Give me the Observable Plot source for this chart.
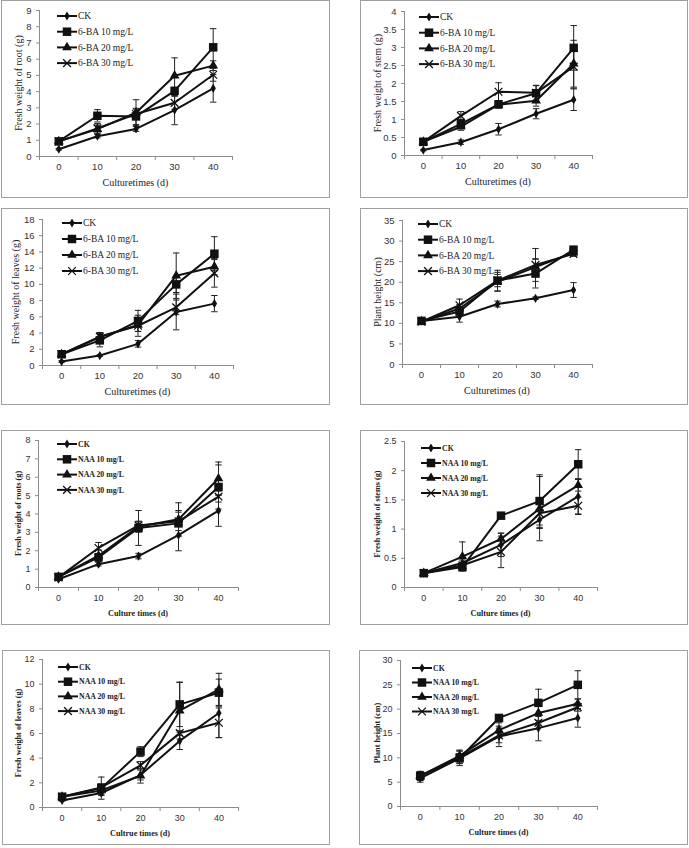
<!DOCTYPE html>
<html><head><meta charset="utf-8">
<script src="https://cdn.jsdelivr.net/npm/d3@7"></script>
<script src="https://cdn.jsdelivr.net/npm/@observablehq/plot@0.6"></script>
<style>
html,body{margin:0;padding:0;background:#fff;}
#root{position:relative;width:689px;height:848px;overflow:hidden;background:#fff;}
.frame{position:absolute;border:1px solid #a0a0a0;box-sizing:border-box;pointer-events:none;}
.holder{position:absolute;}
.holder svg{display:block;max-width:none !important;}
</style></head><body><div id="root"></div>
<script>
// ---------- data ----------
const days = [0, 10, 20, 30, 40];
const seriesBA = ["CK", "6-BA 10 mg/L", "6-BA 20 mg/L", "6-BA 30 mg/L"];
const seriesNAA = ["CK", "NAA 10 mg/L", "NAA 20 mg/L", "NAA 30 mg/L"];

const rootBA = [
  [0.45, 1.25, 1.70, 2.86, 4.20],
  [0.93, 2.51, 2.47, 4.05, 6.73],
  [0.93, 1.69, 2.70, 4.98, 5.60],
  [0.93, 1.73, 2.62, 3.31, 5.04]];
const rootBAErr = [
  [0.05, 0.10, 0.15, 0.90, 0.85],
  [0.05, 0.38, 0.50, 0.15, 1.15],
  [0.05, 0.25, 0.80, 1.10, 0.30],
  [0.05, 0.30, 0.30, 0.40, 0.40]];

const stemBA = [
  [0.15, 0.37, 0.73, 1.16, 1.55],
  [0.38, 0.88, 1.42, 1.73, 2.99],
  [0.38, 0.80, 1.41, 1.52, 2.55],
  [0.38, 1.10, 1.77, 1.74, 2.47]];
const stemBAErr = [
  [0.02, 0.06, 0.16, 0.14, 0.30],
  [0.03, 0.12, 0.10, 0.22, 0.62],
  [0.03, 0.10, 0.08, 0.15, 0.65],
  [0.03, 0.12, 0.25, 0.20, 0.60]];

const leafBA = [
  [0.49, 1.23, 2.67, 6.60, 7.63],
  [1.39, 3.10, 5.50, 10.00, 13.78],
  [1.39, 3.50, 5.00, 11.07, 12.18],
  [1.39, 3.57, 4.90, 7.17, 11.36]];
const leafBAErr = [
  [0.10, 0.10, 0.40, 2.20, 1.00],
  [0.10, 0.80, 1.30, 1.00, 2.10],
  [0.10, 0.50, 0.80, 2.80, 1.00],
  [0.10, 0.50, 1.30, 0.90, 1.70]];

const heightBA = [
  [10.6, 11.6, 14.7, 16.1, 18.1],
  [10.6, 12.9, 20.4, 22.1, 27.9],
  [10.4, 13.6, 20.1, 23.7, 27.2],
  [10.4, 14.4, 20.4, 24.2, 26.9]];
const heightBAErr = [
  [0.8, 1.3, 0.7, 0.3, 1.8],
  [0.5, 1.0, 1.5, 3.5, 0.8],
  [0.5, 1.0, 2.3, 2.0, 0.8],
  [0.5, 1.5, 2.5, 4.0, 0.6]];

const rootNAA = [
  [0.45, 1.27, 1.71, 2.85, 4.18],
  [0.58, 1.64, 3.24, 3.49, 5.47],
  [0.58, 1.73, 3.31, 3.71, 5.93],
  [0.55, 2.15, 3.38, 3.60, 4.95]];
const rootNAAErr = [
  [0.05, 0.10, 0.15, 0.85, 0.85],
  [0.05, 0.20, 0.95, 0.70, 1.20],
  [0.05, 0.30, 0.30, 0.90, 0.90],
  [0.05, 0.30, 0.20, 0.50, 0.30]];

const stemNAA = [
  [0.245, 0.42, 0.73, 1.16, 1.56],
  [0.245, 0.35, 1.23, 1.48, 2.11],
  [0.245, 0.53, 0.83, 1.35, 1.75],
  [0.245, 0.38, 0.61, 1.27, 1.40]];
const stemNAAErr = [
  [0.02, 0.05, 0.20, 0.15, 0.30],
  [0.02, 0.04, 0.03, 0.45, 0.25],
  [0.02, 0.25, 0.10, 0.55, 0.10],
  [0.02, 0.05, 0.27, 0.20, 0.15]];

const leafNAA = [
  [0.57, 1.17, 2.63, 5.40, 7.66],
  [0.87, 1.57, 4.53, 8.36, 9.31],
  [0.87, 1.38, 2.58, 7.85, 9.58],
  [0.87, 1.63, 3.42, 6.03, 6.87]];
const leafNAAErr = [
  [0.05, 0.20, 0.40, 0.70, 2.00],
  [0.05, 0.90, 0.40, 1.80, 1.10],
  [0.05, 0.30, 0.60, 2.30, 1.30],
  [0.05, 0.30, 0.30, 0.20, 1.20]];

const heightNAA = [
  [5.8, 9.9, 14.4, 16.1, 18.2],
  [6.3, 9.9, 18.2, 21.3, 25.0],
  [6.3, 10.4, 15.7, 19.2, 21.1],
  [6.3, 10.1, 14.6, 17.2, 20.4]];
const heightNAAErr = [
  [0.8, 1.0, 2.1, 2.6, 1.9],
  [0.9, 1.5, 0.5, 2.8, 2.9],
  [0.9, 1.2, 1.5, 2.0, 1.0],
  [0.9, 1.3, 1.5, 0.5, 0.8]];

const yTitles = ["Fresh weight of root (g)", "Fresh weight of stem (g)", "Fresh weight of leaves (g)", "Plant height (cm)",
  "Fresh weight of roots (g)", "Fresh weight of stems (g)", "Fresh weight of leaves (g)", "Plant height (cm)"];
const xTitles = ["Culturetimes (d)", "Culturetimes (d)", "Culturetimes (d)", "Culturetimes (d)",
  "Culture times (d)", "Culture times (d)", "Cultrue times (d)", "Culture times (d)"];

// ---------- layout ----------
const panels = [
  {box:[1,0,329,198],   px:[39,232],  py:[10,156],  ymax:9,   step:1,   m:rootBA,    e:rootBAErr,    names:seriesBA,  yt:21, leg:[57,16,15.7],  small:false},
  {box:[360,0,328,198], px:[404,592], py:[11,155],  ymax:4,   step:0.5, m:stemBA,    e:stemBAErr,    names:seriesBA,  yt:27, leg:[419,17,15.7], small:false},
  {box:[1,208,329,197], px:[42,233],  py:[219,365], ymax:18,  step:2,   m:leafBA,    e:leafBAErr,    names:seriesBA,  yt:27, leg:[62,223,16],   small:false},
  {box:[360,208,328,197],px:[402,592],py:[220,364], ymax:35,  step:5,   m:heightBA,  e:heightBAErr,  names:seriesBA,  yt:25, leg:[418,224,15.7],small:false},
  {box:[1,430,329,195], px:[38,238],  py:[440,587], ymax:8,   step:1,   m:rootNAA,   e:rootNAAErr,   names:seriesNAA, yt:20, leg:[57,444,15.3], small:true},
  {box:[360,430,328,195],px:[404,597],py:[441,587], ymax:2.5, step:0.5, m:stemNAA,   e:stemNAAErr,   names:seriesNAA, yt:27, leg:[421,448,15],  small:true},
  {box:[2,650,328,195], px:[42,238],  py:[659,807], ymax:12,  step:2,   m:leafNAA,   e:leafNAAErr,   names:seriesNAA, yt:24, leg:[58,667,14.7], small:true},
  {box:[359,650,329,195],px:[400,597],py:[660,806], ymax:30,  step:5,   m:heightNAA, e:heightNAAErr, names:seriesNAA, yt:23, leg:[412,668,14.5],small:true}
];

const INK = "#111";
const AXIS = "#8c8c8c";
const markerDefs = [
  {plot:"diamond",  d3s:d3.symbolDiamond,  r:2.8, filled:true},
  {plot:"square",   d3s:d3.symbolSquare,   r:4.8, filled:true},
  {plot:"triangle", d3s:d3.symbolTriangle, r:3.6, filled:true},
  {plot:"times",    d3s:d3.symbolTimes,    r:3.6, filled:false}
];
const capSymbol = {draw(ctx, size) { const r = Math.sqrt(size / Math.PI); ctx.moveTo(-r, 0); ctx.lineTo(r, 0); }};

const root = document.getElementById("root");
const SVGNS = "http://www.w3.org/2000/svg";

panels.forEach((p, k) => {
  const [bx, by, bw, bh] = p.box;
  const rows = [];
  p.m.forEach((vals, s) => vals.forEach((v, i) => rows.push({series: p.names[s], s, day: days[i], v, err: p.e[s][i]})));

  const serif = "Liberation Serif, Times New Roman, serif";
  const legFont = p.small ? 7.8 : 9.5;
  const titleFont = p.small ? 8.2 : 10;
  const weight = p.small ? "bold" : "normal";

  const overlay = () => {
    const g = document.createElementNS(SVGNS, "g");
    const sel = d3.select(g);
    const [lx, ly, sp] = p.leg;
    p.names.forEach((n, i) => {
      const x = lx - bx, y = ly - by + i * sp;
      sel.append("line").attr("x1", x).attr("x2", x + 20).attr("y1", y).attr("y2", y)
        .attr("stroke", INK).attr("stroke-width", 2);
      const md = markerDefs[i];
      const path = sel.append("path").attr("transform", `translate(${x + 10},${y})`)
        .attr("d", d3.symbol(md.d3s, Math.PI * md.r * md.r)());
      if (md.filled) path.attr("fill", INK); else path.attr("fill", "none").attr("stroke", INK).attr("stroke-width", 1.3);
      sel.append("text").attr("x", x + 21).attr("y", y).attr("dy", "0.35em")
        .attr("text-anchor", "start")
        .attr("font-family", serif).attr("font-size", legFont).attr("font-weight", weight)
        .attr("fill", "#222").text(n);
    });
    // axis titles
    const cx = (p.px[0] + p.px[1]) / 2 - bx;
    sel.append("text").attr("x", cx).attr("y", p.py[1] - by + 26).attr("dy", "0.35em")
      .attr("text-anchor", "middle").attr("font-family", serif).attr("font-size", titleFont)
      .attr("font-weight", weight).attr("fill", "#222").text(xTitles[k]);
    const cy = (p.py[0] + p.py[1]) / 2 - by;
    sel.append("text").attr("transform", `translate(${p.px[0] - bx - p.yt},${cy}) rotate(-90)`)
      .attr("dy", "0.35em").attr("text-anchor", "middle").attr("font-family", serif)
      .attr("font-size", titleFont).attr("font-weight", weight).attr("fill", "#222").text(yTitles[k]);
    return g;
  };

  const dotMarks = markerDefs.map((md, i) => Plot.dot(rows.filter(d => d.s === i), {
    x: "day", y: "v", symbol: md.plot, r: md.r,
    fill: md.filled ? INK : "none", stroke: md.filled ? "none" : INK, strokeWidth: md.filled ? 0 : 1.3
  }));

  const yTicks = d3.range(0, p.ymax + p.step / 2, p.step);
  const chart = Plot.plot({
    width: bw, height: bh,
    marginLeft: p.px[0] - bx, marginRight: bx + bw - p.px[1],
    marginTop: p.py[0] - by, marginBottom: by + bh - p.py[1],
    style: {background: "transparent", fontFamily: "Liberation Sans, Arial, sans-serif", fontSize: p.small ? "9px" : "9.5px", color: "#333", overflow: "visible"},
    x: {domain: [-5, 45], label: null},
    y: {domain: [0, p.ymax], label: null, nice: false},
    marks: [
      Plot.axisY({ticks: yTicks, tickSize: 3, tickPadding: 5, stroke: AXIS, fill: "#333", label: null,
        tickFormat: d => String(+d.toFixed(2))}),
      Plot.axisX({ticks: days, tickSize: 0, tickPadding: 7, fill: "#333", label: null, tickFormat: d => String(d)}),
      Plot.axisX({ticks: [-5, 5, 15, 25, 35, 45], tickSize: 4, stroke: AXIS, label: null, tickFormat: () => ""}),
      Plot.ruleY([0], {stroke: AXIS}),
      Plot.ruleX([-5], {stroke: AXIS}),
      Plot.ruleX(rows, {x: "day", y1: d => d.v - d.err, y2: d => d.v + d.err, stroke: "#222", strokeWidth: 1}),
      Plot.dot(rows, {x: "day", y: d => d.v - d.err, symbol: capSymbol, r: 3.2, fill: "none", stroke: "#222", strokeWidth: 1}),
      Plot.dot(rows, {x: "day", y: d => d.v + d.err, symbol: capSymbol, r: 3.2, fill: "none", stroke: "#222", strokeWidth: 1}),
      Plot.line(rows, {x: "day", y: "v", z: "series", stroke: INK, strokeWidth: 2}),
      ...dotMarks,
      overlay
    ]
  });

  const holder = document.createElement("div");
  holder.className = "holder";
  holder.style.left = bx + "px";
  holder.style.top = by + "px";
  holder.style.width = bw + "px";
  holder.style.height = bh + "px";
  holder.appendChild(chart);
  root.appendChild(holder);

  const frame = document.createElement("div");
  frame.className = "frame";
  frame.style.left = bx + "px";
  frame.style.top = by + "px";
  frame.style.width = bw + "px";
  frame.style.height = bh + "px";
  root.appendChild(frame);
});
</script>
</body></html>
